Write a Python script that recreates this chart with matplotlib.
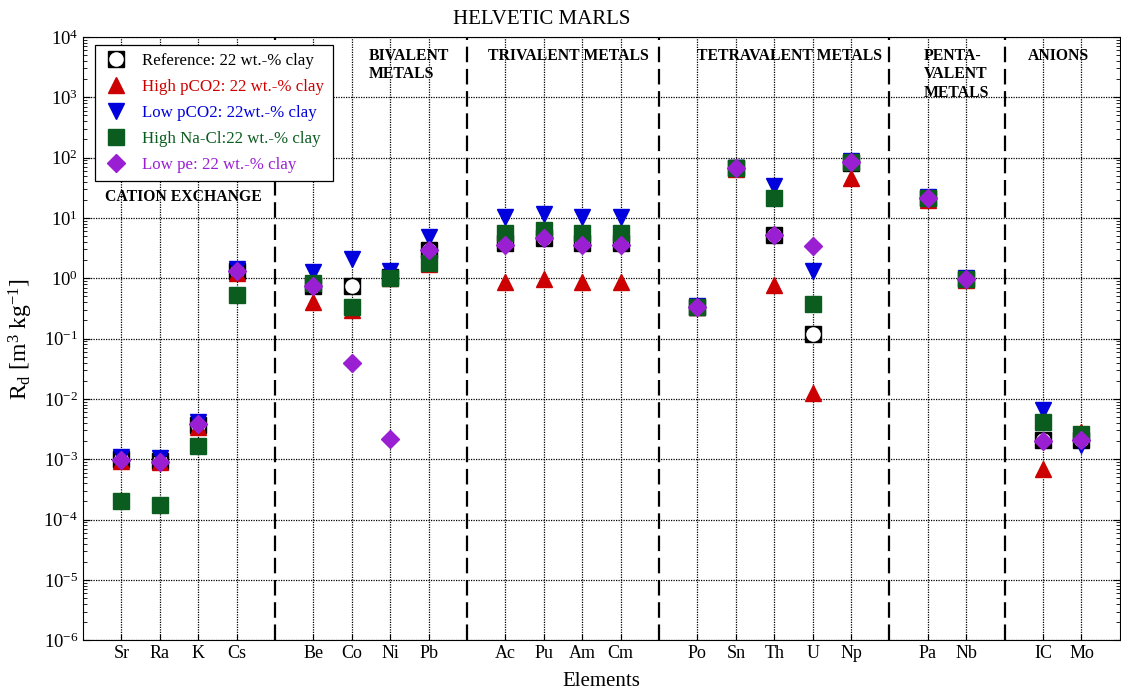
import matplotlib.pyplot as plt
from matplotlib.lines import Line2D
from matplotlib.legend_handler import HandlerTuple
from matplotlib.ticker import LogLocator, NullFormatter

plt.rcParams['font.family'] = ['Liberation Serif', 'DejaVu Serif']
plt.rcParams['mathtext.fontset'] = 'custom'
plt.rcParams['mathtext.rm'] = 'Liberation Serif'
plt.rcParams['mathtext.it'] = 'Liberation Serif:italic'
plt.rcParams['axes.unicode_minus'] = False

# element groups (a blank slot separates the groups on the x axis)
groups = [
    ["Sr", "Ra", "K", "Cs"],
    ["Be", "Co", "Ni", "Pb"],
    ["Ac", "Pu", "Am", "Cm"],
    ["Po", "Sn", "Th", "U", "Np"],
    ["Pa", "Nb"],
    ["IC", "Mo"],
]
group_titles = ["CATION EXCHANGE", "BIVALENT\nMETALS", "TRIVALENT METALS",
                "TETRAVALENT METALS", "PENTA-\nVALENT\nMETALS", "ANIONS"]

# Rd values [m3/kg], order: Sr Ra K Cs | Be Co Ni Pb | Ac Pu Am Cm | Po Sn Th U Np | Pa Nb | IC Mo
reference = [1.0e-3, 0.93e-3, 3.7e-3, 1.3, 0.75, 0.75, 1.05, 2.9, 3.8, 4.6, 3.8, 3.8,
             0.34, 66, 5.3, 0.12, 82, 21, 0.97, 2.1e-3, 2.1e-3]
high_pco2 = [0.92e-3, 0.9e-3, 3.4e-3, 1.2, 0.4, 0.3, 1.0, 1.75, 0.86, 0.98, 0.86, 0.86,
             0.33, 64, 0.78, 0.0126, 46, 20, 0.95, 7e-4, 2.8e-3]
low_pco2 = [1.1e-3, 1.05e-3, 4.2e-3, 1.45, 1.25, 2.1, 1.3, 4.8, 10.5, 11.5, 10.5, 10.5,
            0.35, 68, 34, 1.3, 88, 22, 1.0, 6.6e-3, 1.7e-3]
high_nacl = [2.0e-4, 1.75e-4, 1.65e-3, 0.52, 0.82, 0.34, 1.0, 1.8, 5.6, 6.2, 5.6, 5.6,
             0.34, 66, 21, 0.37, 84, 21, 0.97, 4.1e-3, 2.6e-3]
low_pe = [0.98e-3, 0.9e-3, 3.8e-3, 1.3, 0.75, 0.039, 2.2e-3, 2.9, 3.6, 4.7, 3.6, 3.6,
          0.34, 66, 5.3, 3.4, 84, 21, 0.97, 2.0e-3, 2.1e-3]

RED = '#cc0000'
BLUE = '#0000dd'
GREEN = '#0b5c1f'
PURPLE = '#9a1fd3'

# x positions with a gap between groups
x, labels, seps = [], [], []
pos = 1
for g in groups:
    for el in g:
        x.append(pos)
        labels.append(el)
        pos += 1
    seps.append(pos)
    pos += 1
seps = seps[:-1]

fig = plt.figure(figsize=(11.21, 6.96), dpi=100)
ax = fig.add_axes([0.074, 0.080, 0.925, 0.867])

ax.set_yscale('log')
ax.set_ylim(1e-6, 1e4)
ax.set_xlim(0, pos - 1)
ax.yaxis.set_major_locator(LogLocator(base=10, numticks=20))
ax.yaxis.set_minor_locator(LogLocator(base=10, subs=range(2, 10), numticks=20))
ax.yaxis.set_minor_formatter(NullFormatter())

ax.set_xticks(x)
ax.set_xticklabels(labels, fontsize=13)
ax.tick_params(axis='x', direction='in', length=4)
ax.tick_params(axis='y', which='both', direction='in', right=True, labelsize=13.5)
ax.tick_params(axis='y', which='major', length=5)
ax.tick_params(axis='y', which='minor', length=3)
ax.grid(True, which='major', color='black', linestyle=(0, (1, 1)), linewidth=0.9)
for s in seps:
    ax.axvline(s, color='black', linestyle=(0, (7, 3)), linewidth=1.6)

ms = 12
ax.plot(x, reference, 's', color='black', ms=ms, zorder=3)
ax.plot(x, reference, 'o', color='white', mec='none', ms=ms - 1.5, zorder=3)
ax.plot(x, high_pco2, '^', color=RED, ms=ms, zorder=4)
ax.plot(x, low_pco2, 'v', color=BLUE, ms=ms, zorder=4)
ax.plot(x, high_nacl, 's', color=GREEN, ms=ms - 1, zorder=5)
ax.plot(x, low_pe, 'D', color=PURPLE, ms=ms - 3, zorder=6)

# group headings (x in data units, y near the top of the axes)
title_x = [0.57, 7.45, 10.55, 16.0, 21.9, 24.6]
ax.text(title_x[0], 2.2e1, group_titles[0], fontsize=11.3, fontweight='bold', va='center')
for title, tx in zip(group_titles[1:], title_x[1:]):
    ax.text(tx, 6.6e3, title, fontsize=11.3, fontweight='bold', va='top',
            ha='left', linespacing=1.2)

# legend
h_ref = (Line2D([], [], marker='s', color='black', ls='none', ms=ms),
         Line2D([], [], marker='o', color='white', mec='none', ls='none', ms=ms - 1.5))
h_red = Line2D([], [], marker='^', color=RED, ls='none', ms=ms)
h_blue = Line2D([], [], marker='v', color=BLUE, ls='none', ms=ms)
h_green = Line2D([], [], marker='s', color=GREEN, ls='none', ms=ms - 1)
h_purple = Line2D([], [], marker='D', color=PURPLE, ls='none', ms=ms - 3)
leg = ax.legend([h_ref, h_red, h_blue, h_green, h_purple],
                ["Reference: 22 wt.-% clay", "High pCO2: 22 wt.-% clay",
                 "Low pCO2: 22wt.-% clay", "High Na-Cl:22 wt.-% clay",
                 "Low pe: 22 wt.-% clay"],
                handler_map={tuple: HandlerTuple(ndivide=1, pad=0)},
                loc='upper left', bbox_to_anchor=(0.0116, 0.987), borderaxespad=0,
                fontsize=12.2,
                labelcolor=['black', RED, BLUE, GREEN, PURPLE],
                fancybox=False, framealpha=1, edgecolor='black',
                handlelength=1.5, handletextpad=0.8, labelspacing=0.58,
                borderpad=0.5)
leg.get_frame().set_linewidth(0.9)

ax.set_ylabel(r'R$_\mathrm{d}$ [m$^3$ kg$^{-1}$]', fontsize=17, labelpad=6)
ax.set_xlabel('Elements', fontsize=15, labelpad=7)
fig.text(0.483, 0.972, 'HELVETIC MARLS', fontsize=15, ha='center', va='center')

fig.savefig('out.png', dpi=100)
